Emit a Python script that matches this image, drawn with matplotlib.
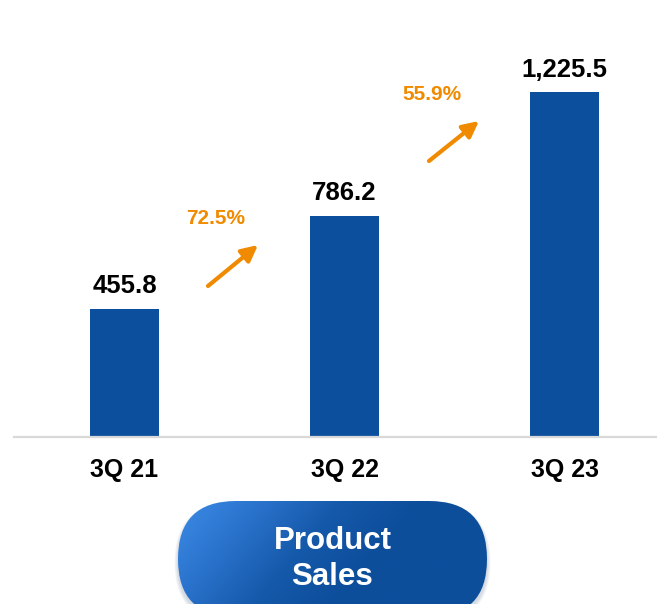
import numpy as np
import matplotlib
matplotlib.use("Agg")
import matplotlib.pyplot as plt
from matplotlib.patches import FancyBboxPatch
from matplotlib.colors import LinearSegmentedColormap

# chart data
quarters = ["3Q 21", "3Q 22", "3Q 23"]
sales = [455.8, 786.2, 1225.5]
growth_labels = ["72.5%", "55.9%"]
button_text = "Product\nSales"

BLUE = "#0c4f9d"
ORANGE = "#f08a00"

plt.rcParams["font.family"] = ["Liberation Sans", "DejaVu Sans"]
plt.rcParams["font.weight"] = "bold"

W, H = 657, 604
fig = plt.figure(figsize=(W / 100, H / 100), dpi=100)

# main bar axes, placed in pixel terms
ax = fig.add_axes([14 / W, (H - 437) / H, 1 - 14 / W, (437 - 20) / H])
x = np.arange(len(quarters))
bars = ax.bar(x, sales, width=0.314, color=BLUE)
ax.set_xlim(-0.502, 2.42)
ax.set_ylim(0, 1481)
for b, v in zip(bars, sales):
    ax.annotate(f"{v:,.1f}", (b.get_x() + b.get_width() / 2, v),
                xytext=(0, 11), textcoords="offset points",
                ha="center", va="baseline", fontsize=18.5, fontweight="bold")

ax.set_xticks(x)
ax.set_xticklabels(quarters, fontsize=18, fontweight="bold")
ax.tick_params(axis="x", length=0, pad=15)
ax.set_yticks([])
for s in ["top", "right", "left"]:
    ax.spines[s].set_visible(False)
ax.spines["bottom"].set_color("#d9d9d9")
ax.spines["bottom"].set_linewidth(1.6)

# overlay in pixel coordinates for growth arrows and button
ov = fig.add_axes([0, 0, 1, 1], zorder=5)
ov.set_xlim(0, W)
ov.set_ylim(H, 0)
ov.axis("off")
ov.patch.set_alpha(0)

arrow_pos = [((208, 286), (258, 245)), ((429, 161), (479, 121))]
label_pos = [(216, 218), (432, 95)]
for (tail, head), (lx, ly), lab in zip(arrow_pos, label_pos, growth_labels):
    ov.annotate("", xy=head, xytext=tail,
                arrowprops=dict(arrowstyle="-|>", color=ORANGE, lw=3,
                                mutation_scale=24, shrinkA=0, shrinkB=0))
    ov.text(lx, ly, lab, color=ORANGE, fontsize=15, fontweight="bold",
            ha="center", va="center")

# pill button with gradient
bx0, by0, bw, bh = 178, 501, 309, 116
for i in range(6):
    g = 6 - i
    sh = FancyBboxPatch((bx0 - g * 0.6, by0 + 3 - g * 0.4), bw + g * 1.2, bh + g,
                        boxstyle=f"round,pad=0,rounding_size={bh / 2 + g * 0.5}",
                        fc="#1a3d6b", ec="none", alpha=0.03)
    ov.add_patch(sh)
pill = FancyBboxPatch((bx0, by0), bw, bh,
                      boxstyle=f"round,pad=0,rounding_size={bh / 2}",
                      fc="none", ec="none")
ov.add_patch(pill)
gx, gy = np.meshgrid(np.linspace(0, 1, 200), np.linspace(0, 1, 80))
t = np.clip(gx * 0.95 + gy * 0.3, 0, 1)
cmap = LinearSegmentedColormap.from_list("pill", ["#3c8be6", "#2a73cc", "#1559aa", "#0d4e9b", "#0d4e9b"])
im = ov.imshow(t, cmap=cmap, extent=[bx0, bx0 + bw, by0 + bh, by0],
               aspect="auto", interpolation="bilinear", zorder=2)
im.set_clip_path(pill)
ov.text(bx0 + bw / 2, 559, button_text, color="white", fontsize=22.5,
        fontweight="bold", ha="center", va="center", linespacing=1.25, zorder=3)
ov.set_xlim(0, W)
ov.set_ylim(H, 0)

fig.savefig("out.png", dpi=100)
